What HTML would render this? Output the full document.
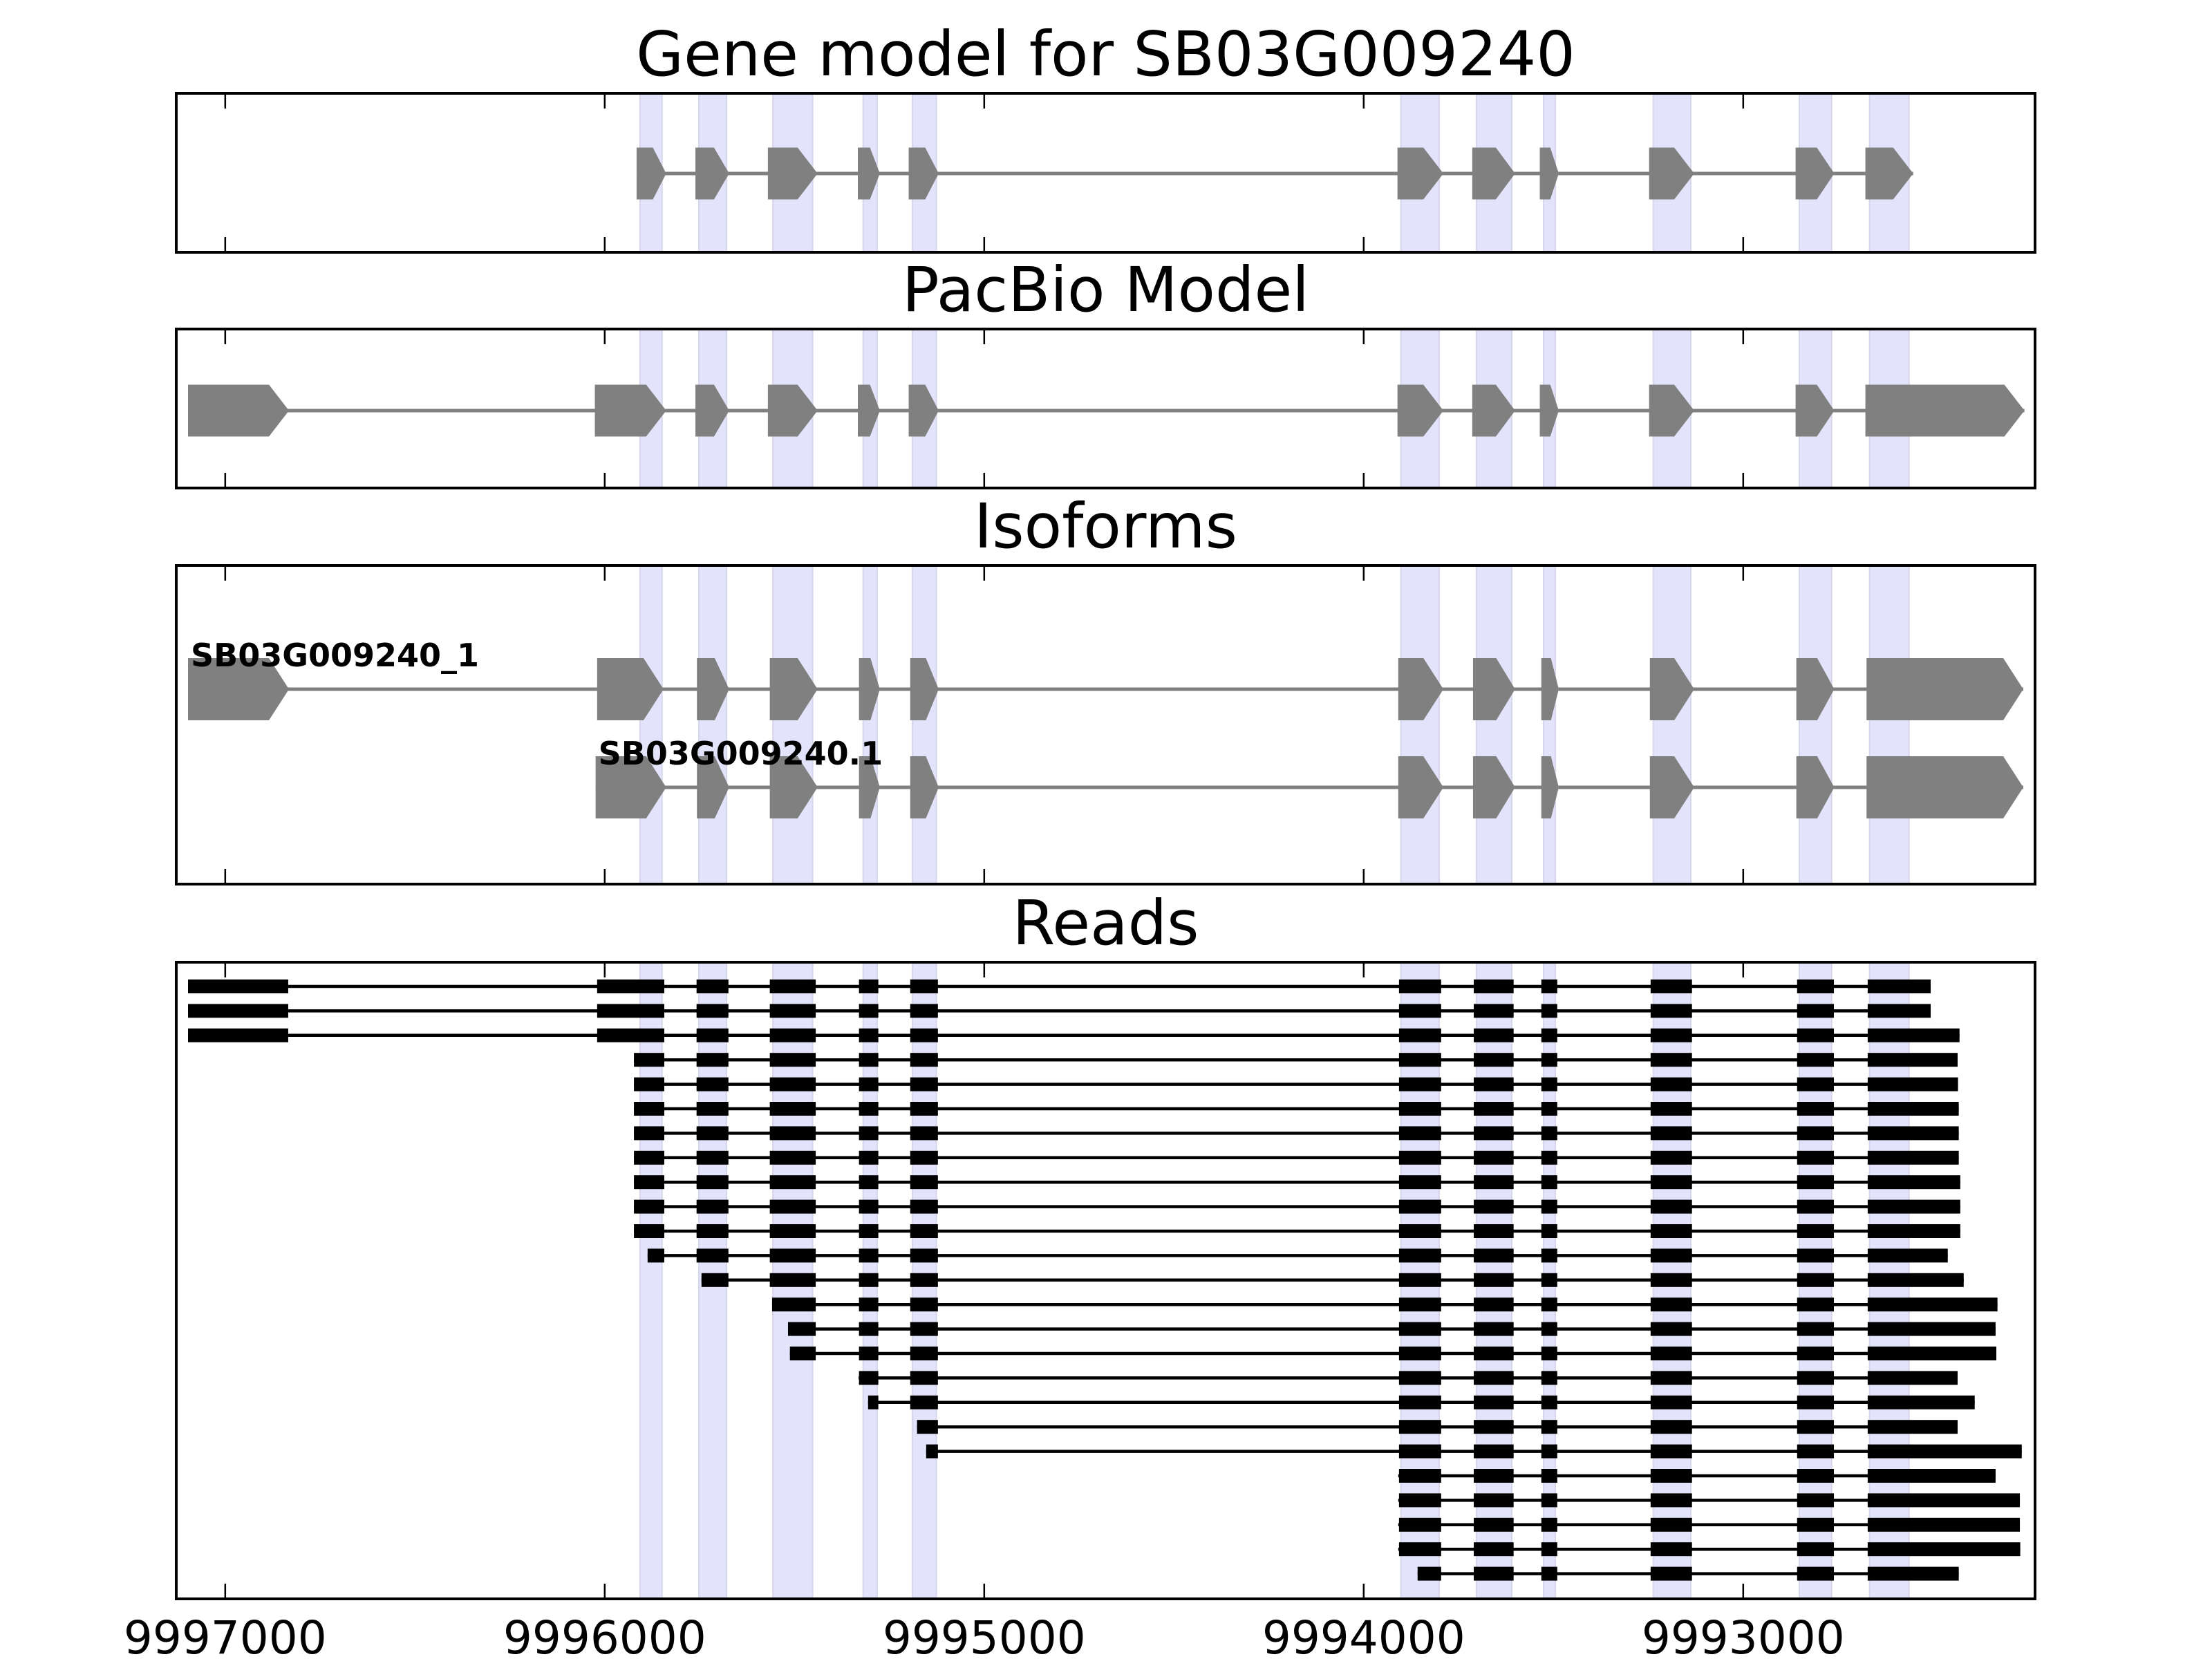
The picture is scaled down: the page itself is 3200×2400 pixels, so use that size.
<!DOCTYPE html>
<html><head><meta charset="utf-8"><style>
html,body{margin:0;padding:0;background:#fff;}
svg{display:block;}
text{font-family:"DejaVu Sans","Liberation Sans",sans-serif;}
</style></head>
<body>
<svg id="chart" width="3200" height="2400" viewBox="0 0 3200 2400" xmlns="http://www.w3.org/2000/svg"></svg>
<script>
// ---- data ----
const xTicks = [9997000, 9996000, 9995000, 9994000, 9993000];
const xTickLabels = ["9997000", "9996000", "9995000", "9994000", "9993000"];
const panelTitles = ["Gene model for SB03G009240", "PacBio Model", "Isoforms", "Reads"];
const bands = [[9995907,9995849],[9995752,9995679],[9995557,9995452],[9995319,9995282],[9995189,9995126],[9993902,9993801],[9993703,9993610],[9993526,9993495],[9993237,9993138],[9992852,9992767],[9992667,9992563]];
const geneExons = [[9995916,9995838],[9995761,9995672],[9995570,9995439],[9995333,9995275],[9995199,9995120],[9993911,9993790],[9993714,9993601],[9993536,9993486],[9993248,9993129],[9992862,9992760],[9992678,9992552]];
const pacbioExons = [[9997098,9996832],[9996026,9995838],[9995761,9995672],[9995570,9995439],[9995333,9995275],[9995199,9995120],[9993911,9993790],[9993714,9993601],[9993536,9993486],[9993248,9993129],[9992862,9992760],[9992678,9992259]];
const iso1Exons = [[9997098,9996832],[9996020,9995845],[9995757,9995672],[9995565,9995439],[9995330,9995275],[9995195,9995120],[9993909,9993790],[9993712,9993601],[9993532,9993486],[9993246,9993129],[9992860,9992760],[9992675,9992262]];
const iso2Exons = [[9996024,9995838],[9995757,9995672],[9995565,9995439],[9995330,9995275],[9995195,9995120],[9993909,9993790],[9993712,9993601],[9993532,9993486],[9993246,9993129],[9992860,9992760],[9992675,9992262]];
const isoNames = ["SB03G009240_1", "SB03G009240.1"];
const readExons = [[9997098,9996834],[9996020,9995843],[9995758,9995674],[9995565,9995444],[9995330,9995279],[9995195,9995122],[9993907,9993796],[9993710,9993605],[9993532,9993490],[9993244,9993135],[9992858,9992761],[9992672,9992000]];
const readStarts = [9997098,9997098,9997098,9995923,9995923,9995923,9995923,9995923,9995923,9995923,9995923,9995887,9995745,9995559,9995517,9995512,9995331,9995306,9995177,9995153,9993909,9993909,9993909,9993909,9993858];
const readEnds = [9992506,9992506,9992430,9992435,9992434,9992432,9992432,9992432,9992428,9992428,9992428,9992461,9992419,9992330,9992335,9992333,9992435,9992390,9992435,9992266,9992335,9992271,9992271,9992270,9992432];

// ---- layout ----
const L = 255, R = 2944;
const xMin = 9997129, xMax = 9992231; // reversed axis
function X(v){ return L + (xMin - v) / (xMin - xMax) * (R - L); }
const panels = [{t:135,b:365},{t:476,b:706},{t:818,b:1279},{t:1392,b:2313}];
const NS = "http://www.w3.org/2000/svg";
const svg = document.getElementById('chart');
function el(tag, attrs, parent){ const e=document.createElementNS(NS,tag); for(const k in attrs) e.setAttribute(k,attrs[k]); (parent||svg).appendChild(e); return e; }

function drawBands(p, g){
  bands.forEach(b=>{
    const r = el('rect',{x:X(b[0]),y:p.t,width:X(b[1])-X(b[0]),height:p.b-p.t,fill:'#e3e3fb',stroke:'#d6d6ec','stroke-width':2},g);
    
    
  });
}
function arrowExon(s,e,cy,h,g){
  const x0=X(s), x1=X(e), w=x1-x0;
  const head=Math.min(w*0.45,29);
  const pts=[[x0,cy-h],[x1-head,cy-h],[x1,cy],[x1-head,cy+h],[x0,cy+h]].map(p=>p.join(',')).join(' ');
  const poly = el('polygon',{points:pts,fill:'#808080'},g);
  
  
}
function transcript(exons, cy, h, g){
  const ln = el('line',{x1:X(exons[0][0]),x2:X(exons[exons.length-1][1]),y1:cy,y2:cy,stroke:'#808080','stroke-width':5},g);
  
  
  exons.forEach(ex=>arrowExon(ex[0],ex[1],cy,h,g));
}
function frame(p, g, labels){
  xTicks.forEach((v,i)=>{
    const tx=X(v);
    el('line',{x1:tx,x2:tx,y1:p.t,y2:p.t+22,stroke:'#000','stroke-width':2.5},g);
    el('line',{x1:tx,x2:tx,y1:p.b,y2:p.b-22,stroke:'#000','stroke-width':2.5},g);
    if(labels){
      const t = el('text',{x:tx,y:2392,'text-anchor':'middle','font-size':66,fill:'#000'},g);
      t.textContent = xTickLabels[i];
      
      
    }
  });
  const r = el('rect',{x:L,y:p.t,width:R-L,height:p.b-p.t,fill:'none',stroke:'#000','stroke-width':4},g);
  
  
}
function title(p, txt, g){
  const t = el('text',{x:(L+R)/2,y:p.t-26,'text-anchor':'middle','font-size':89,fill:'#000'},g);
  t.textContent = txt;
  
  
}

// Panel 1: gene model
let g = el('g',{});


drawBands(panels[0],g);
transcript(geneExons,(panels[0].t+panels[0].b)/2+1,37.5,g);
frame(panels[0],g,false); title(panels[0],panelTitles[0],g);

// Panel 2: PacBio
g = el('g',{});


drawBands(panels[1],g);
transcript(pacbioExons,(panels[1].t+panels[1].b)/2+3,37.5,g);
frame(panels[1],g,false); title(panels[1],panelTitles[1],g);

// Panel 3: Isoforms
g = el('g',{});


drawBands(panels[2],g);
[iso1Exons, iso2Exons].forEach((ex,i)=>{
  const cy = [997,1139][i];
  transcript(ex,cy,45,g);
  const t = el('text',{x:X(ex[0][0])+4,y:cy-33,'font-size':46,'font-weight':'bold',fill:'#000'},g);
  t.textContent = isoNames[i];
  
  
});
frame(panels[2],g,false); title(panels[2],panelTitles[2],g);

// Panel 4: Reads
g = el('g',{});


drawBands(panels[3],g);
readStarts.forEach((s,i)=>{
  const e = readEnds[i];
  const cy = 1427 + i*35.4;
  const rg = el('g',{},g);
  
  
  el('line',{x1:X(s),x2:X(e),y1:cy,y2:cy,stroke:'#000','stroke-width':4.5},rg);
  readExons.forEach(ex=>{
    const a = Math.min(ex[0],s), b = Math.max(ex[1],e);
    if(a<=b) return;
    const r = el('rect',{x:X(a),y:cy-10,width:X(b)-X(a),height:20,fill:'#000'},rg);
    
    
  });
});
frame(panels[3],g,true); title(panels[3],panelTitles[3],g);
</script>
</body></html>
